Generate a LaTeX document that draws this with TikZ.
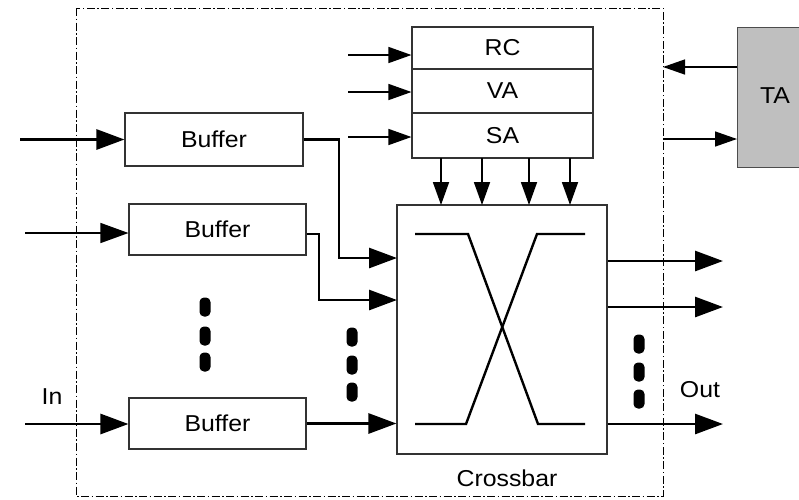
\documentclass[tikz,border=0pt]{standalone}
\usepackage{fontspec}
\setmainfont[FakeStretch=1.08]{Liberation Sans}
\usetikzlibrary{arrows.meta}
\begin{document}
\begin{tikzpicture}[x=1pt,y=-1pt,
  box/.style={draw=black!80,line width=1.1pt,rectangle,inner sep=0pt,font=\fontsize{23}{26}\selectfont},
  lbl/.style={inner sep=0pt,font=\fontsize{23}{26}\selectfont},
  bigtip/.style={-{Triangle[length=28pt,width=20pt]}},
  smalltip/.style={-{Triangle[length=23pt,width=16pt]}},
  thickln/.style={line width=2.8pt},
  thinln/.style={line width=1.4pt},
  dot/.style={fill=black,rounded corners=4.5pt,minimum width=11pt,minimum height=19pt,inner sep=0pt}
]
\useasboundingbox (0,0) rectangle (799,499);
% frame
\draw[line width=0.9pt,dash pattern=on 8pt off 2.5pt on 1.5pt off 2.5pt] (76,8) rectangle (663,496);

% buffers
\node[box,minimum width=178pt,minimum height=53pt] (b1) at (214,139.5) {Buffer};
\node[box,minimum width=177pt,minimum height=51pt] (b2) at (217.5,229.5) {Buffer};
\node[box,minimum width=177pt,minimum height=51pt] (b3) at (217.5,423.5) {Buffer};

% RC VA SA
\node[box,minimum width=181pt,minimum height=42pt] (rc) at (502.5,48) {RC};
\node[box,minimum width=181pt,minimum height=44pt] (va) at (502.5,91) {VA};
\node[box,minimum width=181pt,minimum height=45pt] (sa) at (502.5,135.5) {SA};

% crossbar
\node[box,minimum width=210pt,minimum height=249pt] (xb) at (502,329.5) {};
\node[lbl] (xbl) at (507,478) {Crossbar};

% TA
\node[box,fill=black!25,draw=black!70,minimum width=80pt,minimum height=140pt,anchor=north west] (ta) at (737,27) {};
\node[lbl] (tal) at (775,96) {TA};

% X inside crossbar
\draw[line width=2.4pt] (415,234) -- (468,234) -- (538,424) -- (585,424);
\draw[line width=2.4pt] (415,424) -- (466,424) -- (537,234) -- (585,234);

% inputs
\coordinate (i1) at (20,139.5);
\coordinate (i2) at (25,233);
\coordinate (i3) at (25,424);
\draw[thickln,bigtip] (i1) -- (b1.west);
\draw[thinln,bigtip] (i2) -- (i2 -| b2.west);
\draw[thickln,bigtip] (i3) -- (i3 -| b3.west);
\node[lbl] (inl) at (52,397) {In};

% RC/VA/SA inputs
\coordinate (r1) at (348,55);
\coordinate (r2) at (348,92);
\coordinate (r3) at (348,137);
\draw[thinln,smalltip] (r1) -- (r1 -| rc.west);
\draw[thinln,smalltip] (r2) -- (r2 -| va.west);
\draw[thinln,smalltip] (r3) -- (r3 -| sa.west);

% SA -> crossbar
\foreach \x in {441,482,529,570}{
  \draw[line width=1.8pt,smalltip] (\x,158) -- (\x,205);
}

% buffer outputs
\coordinate (x1) at (397,258);
\coordinate (x2) at (397,300);
\coordinate (e2) at (306,234);
\draw[thickln,bigtip] (b1.east) -- (339,139.5) |- (x1);
\draw[thickln,bigtip] (e2 -| b2.east) -- (319,234) |- (x2);
\draw[thickln,bigtip] (b3.east) -- (b3.east -| xb.west);

% outputs
\coordinate (o1) at (723,261);
\coordinate (o2) at (723,307);
\coordinate (o3) at (723,424);
\draw[thickln,bigtip] (o1 -| xb.east) -- (o1);
\draw[thickln,bigtip] (o2 -| xb.east) -- (o2);
\draw[thickln,bigtip] (o3 -| xb.east) -- (o3);
\node[lbl] (outl) at (700,390) {Out};

% TA arrows
\coordinate (t1) at (663,67);
\coordinate (t2) at (663,139);
\draw[thinln,-{Triangle[length=22pt,width=15pt]}] (t1 -| ta.west) -- (t1);
\draw[thinln,-{Triangle[length=22pt,width=15pt]}] (t2) -- (t2 -| ta.west);

% dots
\foreach \y in {307,336,362} \node[dot] at (205,\y) {};
\foreach \y in {337,365,392} \node[dot] at (352,\y) {};
\foreach \y in {344,372,399} \node[dot] at (639,\y) {};
\end{tikzpicture}
\end{document}
